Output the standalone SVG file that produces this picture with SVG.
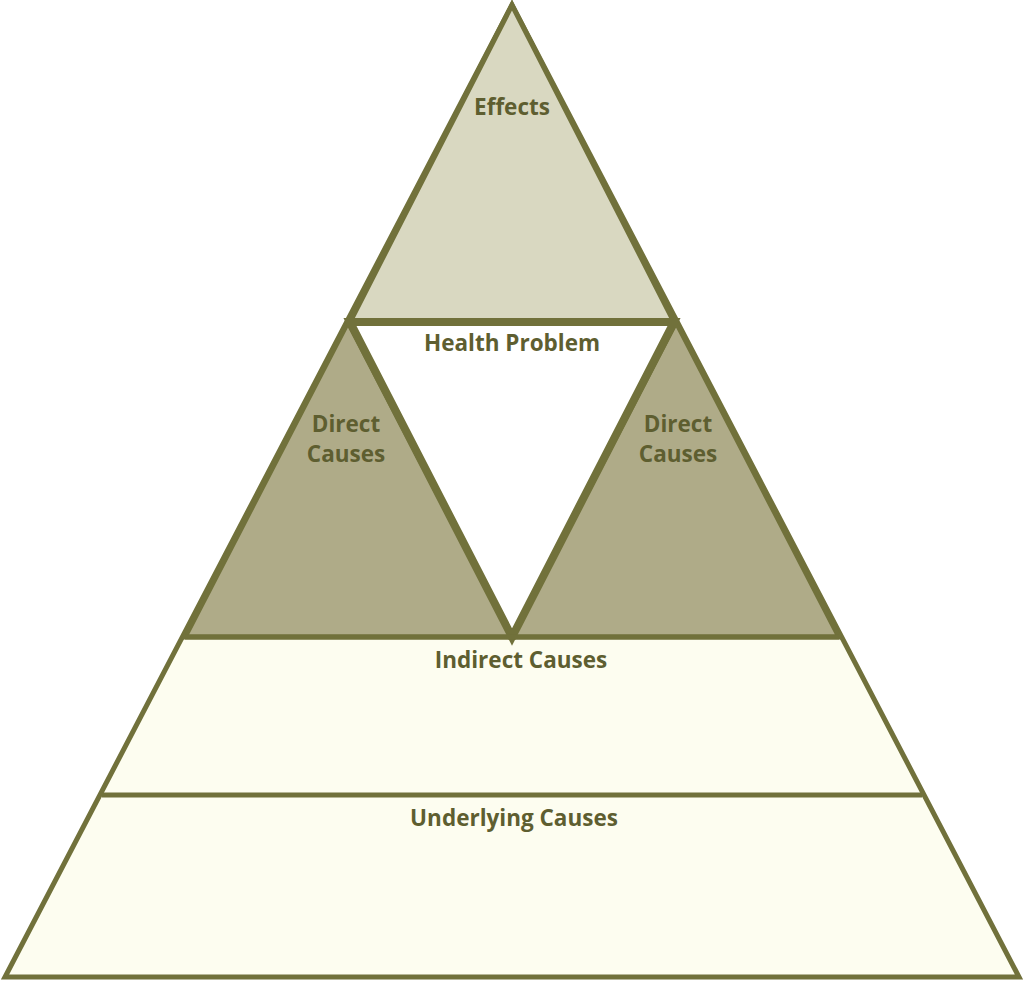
<svg xmlns="http://www.w3.org/2000/svg" width="1024" height="981" viewBox="0 0 1024 981">
<style>
.s{stroke:#71713b;stroke-width:5;stroke-linejoin:miter}
.t{font-family:"Open Sans","Liberation Sans",sans-serif;font-weight:bold;font-size:22.5px;fill:#5e5e30;text-anchor:middle}
</style>
<rect width="1024" height="981" fill="#ffffff"/>
<g id="outer"><polygon class="s" points="512,5 5,977 1019,977" fill="#fdfdf0"/></g>
<g id="effects"><polygon class="s" points="512,5 350,322 674,322" fill="#d9d8c1"/><text class="t" x="512" y="115">Effects</text></g>
<g id="direct-left"><polygon class="s" points="348,322 185,637 512,637" fill="#afab88"/><text class="t" x="346" y="432">Direct</text><text class="t" x="346" y="462">Causes</text></g>
<g id="direct-right"><polygon class="s" points="676,322 512,637 839,637" fill="#afab88"/><text class="t" x="678" y="432">Direct</text><text class="t" x="678" y="462">Causes</text></g>
<g id="health"><polygon points="350,322 674,322 512,637" fill="#ffffff" stroke="#71713b" stroke-width="8" stroke-linejoin="miter"/><text class="t" x="512" y="351">Health Problem</text></g>
<g id="connectors"><line class="s" x1="185" y1="637" x2="839" y2="637"/><line class="s" x1="102" y1="795" x2="922" y2="795"/></g>
<g id="indirect"><text class="t" x="521" y="668">Indirect Causes</text></g>
<g id="underlying"><text class="t" x="514" y="826">Underlying Causes</text></g>
</svg>
